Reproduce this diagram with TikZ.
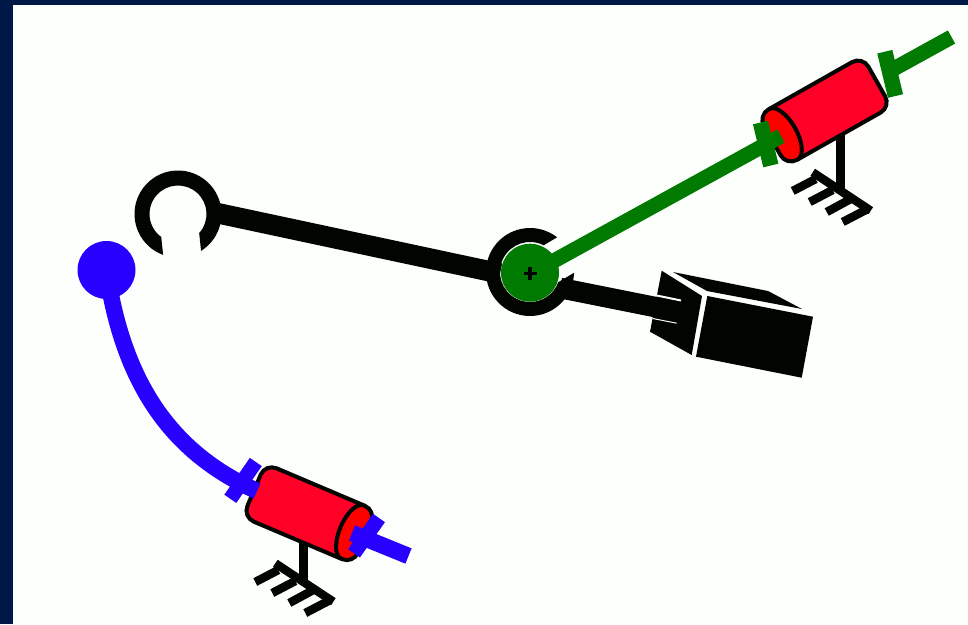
\documentclass[tikz,border=0pt]{standalone}
\definecolor{navy}{RGB}{0,24,72}
\definecolor{paper}{RGB}{253,255,253}
\definecolor{inkblack}{RGB}{2,4,0}
\definecolor{rodgreen}{RGB}{0,122,0}
\definecolor{rodblue}{RGB}{40,0,255}
\definecolor{bodyred}{RGB}{255,0,38}
\definecolor{endred}{RGB}{255,0,0}
\tikzset{
  blackrod/.style={line width=20.5pt,color=inkblack},
  greenrod/.style={line width=15pt,color=rodgreen},
  bluerod/.style={line width=16.5pt,color=rodblue},
  greenbar/.style={line width=15.5pt,color=rodgreen},
  bluebar/.style={line width=14.5pt,color=rodblue},
  rakebar/.style={line width=8.5pt,color=inkblack}
}
\newcommand{\cylshape}{%
    \fill[bodyred,rounded corners=12pt] (-60,0) -- (-60,-29) -- (60,-29) -- (60,29) -- (-60,29) -- cycle;
    \begin{scope}
      \clip[rounded corners=12pt] (-60,0) -- (-60,-29) -- (60,-29) -- (60,29) -- (-60,29) -- cycle;
      \fill[endred] (-62,-30) rectangle (-47,30);
      \fill[endred] (-47,0) ellipse[x radius=13,y radius=29];
    \end{scope}
    \draw[inkblack,line width=4pt] (-47,-29) arc[start angle=-90,end angle=90,x radius=13,y radius=29];
    \draw[inkblack,line width=4pt,rounded corners=12pt] (-60,0) -- (-60,-29) -- (60,-29) -- (60,29) -- (-60,29) -- cycle;
}
\newcommand{\rakeshape}{%
    \draw[rakebar] (0,-60) -- (0,2);
    \draw[rakebar] (-28,-14.7) -- (30,23.7);
    \draw[rakebar] (-48,4) -- (-25,-8);
    \draw[rakebar] (-31,15) -- (-8,3);
    \draw[rakebar] (-14,25) -- (10,12);
    \draw[rakebar] (2,35) -- (27,22);
}
\begin{document}
\begin{tikzpicture}[x=1pt,y=1pt,yscale=-1]
\useasboundingbox (0,0) rectangle (968,624);
\fill[navy] (0,0) rectangle (968,624);
\fill[paper] (13,5) rectangle (968,624);
% upper link and left gripper
\draw[blackrod] (212,212) -- (500,273.5);
\fill[inkblack] (178,214) ++(110:43.5) arc[start angle=110,end angle=418,radius=43.5]
   -- ([shift={(402:28.5)}]178,214) arc[start angle=402,end angle=126,radius=28.5] -- cycle;
% block
\fill[inkblack] (661.7,270.7) -- (702,296) -- (691.7,355) -- (650,331.7) -- cycle;
\fill[inkblack] (673,272) -- (768,291) -- (802,309) -- (707,291) -- cycle;
\fill[inkblack] (707.3,296) -- (813,316.7) -- (801.7,377.7) -- (696,356.7) -- cycle;
\draw[blackrod] (560,288) -- (680,312);
\draw[paper,line width=2pt] (656.7,295.5) -- (681,300.5);
\draw[paper,line width=1pt] (652.7,318.5) -- (676.7,323.2);
% centre ring
\fill[inkblack] (530,272) ++(1:44) arc[start angle=1,end angle=308,radius=44]
   -- ([shift={(297:30)}]530,272) arc[start angle=297,end angle=20,radius=30] -- cycle;
% green rod and its actuator
\begin{scope}[shift={(840.7,187)}]\rakeshape\end{scope}
\begin{scope}[shift={(824.5,111)},rotate=-29.5]\cylshape\end{scope}
\draw[greenrod] (530,274) -- (781,136);
\draw[greenrod] (888,72) -- (951.5,37);
\draw[greenbar] (760.5,122.5) -- (770.8,165.5);
\draw[greenbar] (884.8,51.7) -- (895.5,96);
\fill[rodgreen] (530,272.7) circle[radius=29];
\draw[inkblack,line width=3.5pt] (523.5,273.3) -- (536.5,273.3) (530,266.8) -- (530,279.8);
% blue rod and its actuator
\begin{scope}[shift={(303.3,578)}]\rakeshape\end{scope}
\begin{scope}[shift={(309.3,513.7)},rotate=203]\cylshape\end{scope}
\draw[bluerod] (106.5,270) .. controls (122,375) and (165,450) .. (257,491);
\draw[bluerod] (352,533) -- (408.5,556);
\draw[bluebar] (255.8,462) -- (230.3,498.8);
\draw[bluebar] (379,518) -- (354,553.3);
\fill[rodblue] (106.5,270) circle[radius=29];
\end{tikzpicture}
\end{document}
